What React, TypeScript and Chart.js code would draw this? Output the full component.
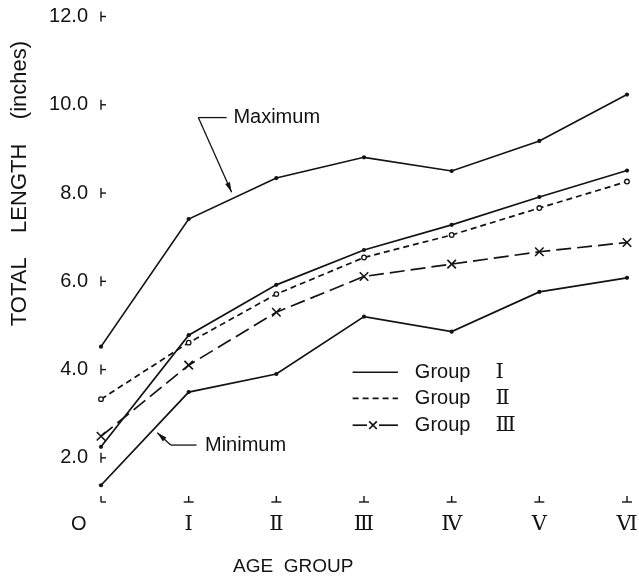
import React, { useEffect, useRef } from 'react';
import { Chart, registerables } from 'chart.js';

Chart.register(...registerables);

// ---- data ----
const ageGroups = ['O', 'Ⅰ', 'Ⅱ', 'Ⅲ', 'Ⅳ', 'Ⅴ', 'Ⅵ'];
const maximum = [4.52, 7.41, 8.34, 8.81, 8.5, 9.18, 10.23];
const groupI = [2.25, 4.78, 5.92, 6.71, 7.28, 7.91, 8.51];
const groupII = [3.33, 4.61, 5.71, 6.54, 7.05, 7.66, 8.26];
const groupIII = [2.49, 4.1, 5.3, 6.11, 6.39, 6.67, 6.88];
const minimum = [1.38, 3.49, 3.9, 5.2, 4.86, 5.76, 6.08];
const yTickValues = [2, 4, 6, 8, 10, 12];
const groupWord = 'Group';
const groupNumerals = ['Ⅰ', 'Ⅱ', 'Ⅲ'];
const yTitle = 'TOTAL    LENGTH    (inches)    ';
const xTitle = 'AGE  GROUP';

// annotation anchors in data space [categoryIndex, value]
const annotations = [
  { text: 'Maximum', tip: [1.49, 8.02], elbow: [1.11, 9.71], end: [1.433, 9.71], label: [1.51, 9.71] },
  { text: 'Minimum', tip: [0.642, 2.57], elbow: [0.795, 2.29], end: [1.09, 2.29], label: [1.186, 2.29] },
];
// legend anchors in data space
const legendLine = [2.87, 3.387];
const legendTextX = 3.58;
const legendNumeralX = 4.5;
const legendRows = [3.94, 3.35, 2.74];

const ink = '#131313';
const sans = '"Liberation Sans", Arial, sans-serif';
const serif = '"DejaVu Serif", "DejaVu Sans", serif';

const decorPlugin = {
  id: 'decor',
  afterDatasetsDraw(chart: any) {
    const { ctx, chartArea } = chart;
    const xs = chart.scales.x;
    const ys = chart.scales.y;
    const px = (v: number) => xs.getPixelForValue(v);
    const py = (v: number) => ys.getPixelForValue(v);
    ctx.save();
    ctx.strokeStyle = ink;
    ctx.fillStyle = ink;
    ctx.lineWidth = 1.4;
    ctx.lineCap = 'butt';
    const seg = (x1: number, y1: number, x2: number, y2: number) => {
      ctx.beginPath();
      ctx.moveTo(x1, y1);
      ctx.lineTo(x2, y2);
      ctx.stroke();
    };
    // y tick marks
    ys.ticks.forEach((t: any) => {
      const y = py(t.value);
      seg(chartArea.left, y - 5, chartArea.left, y + 5);
      seg(chartArea.left, y, chartArea.left + 5, y);
    });
    // x tick marks
    const b = chartArea.bottom;
    xs.ticks.forEach((_t: any, i: number) => {
      const x = px(i);
      if (i === 0) {
        seg(x, b - 6, x, b);
        seg(x, b, x + 5, b);
      } else {
        seg(x - 5, b, x + 5, b);
        seg(x, b, x, b - 6);
      }
    });
    // annotations
    ctx.lineWidth = 1.3;
    annotations.forEach((a) => {
      const tx = px(a.tip[0]), ty = py(a.tip[1]);
      const ex = px(a.elbow[0]), ey = py(a.elbow[1]);
      seg(px(a.end[0]), py(a.end[1]), ex, ey);
      seg(ex, ey, tx, ty);
      const ang = Math.atan2(ty - ey, tx - ex);
      const L = 10, W = 2.6;
      ctx.beginPath();
      ctx.moveTo(tx, ty);
      ctx.lineTo(tx - L * Math.cos(ang) + W * Math.sin(ang), ty - L * Math.sin(ang) - W * Math.cos(ang));
      ctx.lineTo(tx - L * Math.cos(ang) - W * Math.sin(ang), ty - L * Math.sin(ang) + W * Math.cos(ang));
      ctx.closePath();
      ctx.fill();
      ctx.font = `20px ${sans}`;
      ctx.textAlign = 'left';
      ctx.textBaseline = 'middle';
      ctx.fillText(a.text, px(a.label[0]), py(a.label[1]));
    });
    // legend
    [1, 2, 3].forEach((di, r) => {
      const ds = chart.data.datasets[di];
      const y = py(legendRows[r]);
      const x1 = px(legendLine[0]);
      const x2 = px(legendLine[1]);
      ctx.lineWidth = ds.borderWidth;
      if (ds.pointStyle === 'crossRot') {
        const mx = x1 + (x2 - x1) * 0.45;
        ctx.setLineDash([]);
        seg(x1, y, mx - 6, y);
        seg(mx + 6, y, x2, y);
        const d = 3.8;
        seg(mx - d, y - d, mx + d, y + d);
        seg(mx - d, y + d, mx + d, y - d);
      } else {
        ctx.setLineDash(ds.borderDash || []);
        seg(x1, y, x2, y);
        ctx.setLineDash([]);
      }
      ctx.font = `20px ${sans}`;
      ctx.textAlign = 'left';
      ctx.textBaseline = 'middle';
      ctx.fillText(groupWord, px(legendTextX), y);
      ctx.font = `21px ${serif}`;
      ctx.fillText(groupNumerals[r], px(legendNumeralX), y);
    });
    ctx.restore();
  },
};

export default function App() {
  const ref = useRef<HTMLCanvasElement>(null);
  useEffect(() => {
    document.body.style.margin = '0';
    const canvas = ref.current!;
    const base = {
      borderColor: ink,
      borderWidth: 1.7,
      pointRadius: 2.1,
      pointBackgroundColor: ink,
      pointBorderColor: ink,
      pointBorderWidth: 0,
      tension: 0,
      fill: false,
    };
    const chart = new Chart(canvas, {
      type: 'line',
      data: {
        labels: ageGroups,
        datasets: [
          { ...base, label: 'Maximum', data: maximum },
          { ...base, label: 'Group Ⅰ', data: groupI },
          {
            ...base,
            label: 'Group Ⅱ',
            data: groupII,
            borderDash: [6, 4],
            pointRadius: 2.3,
            pointBackgroundColor: '#ffffff',
            pointBorderWidth: 1.3,
          },
          {
            ...base,
            label: 'Group Ⅲ',
            data: groupIII,
            borderDash: [15, 6],
            pointStyle: 'crossRot',
            pointRadius: 6,
            pointBorderWidth: 1.6,
          },
          { ...base, label: 'Minimum', data: minimum },
        ],
      } as any,
      options: {
        animation: false,
        responsive: false,
        events: [],
        layout: { padding: { top: 16.5, right: 12, left: 0, bottom: 0 } },
        plugins: { legend: { display: false }, tooltip: { enabled: false } },
        scales: {
          x: {
            type: 'category',
            offset: false,
            grid: { display: false, drawTicks: false },
            border: { display: false },
            ticks: {
              color: ink,
              padding: 10,
              autoSkip: false,
              maxRotation: 0,
              font: (c: any) =>
                c.index === 0 ? { family: sans, size: 20 } : { family: serif, size: 21 },
              callback: (_v: any, i: number) => (i === 0 ? ageGroups[0] + '        ' : ageGroups[i]),
            },
            title: {
              display: true,
              text: '                         ' + xTitle,
              align: 'start',
              color: ink,
              padding: { top: 0, bottom: 0 },
              font: { family: sans, size: 19, lineHeight: 1 },
            },
            afterFit: (s: any) => {
              s.height = 74;
              s.paddingLeft = 0;
              s.paddingRight = 0;
            },
          },
          y: {
            min: 1,
            max: 12,
            grid: { display: false, drawTicks: false },
            border: { display: false },
            afterBuildTicks: (s: any) => {
              s.ticks = yTickValues.map((v) => ({ value: v }));
            },
            ticks: {
              color: ink,
              padding: 13,
              font: { family: sans, size: 20 },
              callback: (v: any) => Number(v).toFixed(1),
            },
            title: {
              display: true,
              text: yTitle,
              align: 'end',
              color: ink,
              padding: { top: 7, bottom: 0 },
              font: { family: sans, size: 22 },
            },
            afterFit: (s: any) => {
              s.width = 101;
              s.paddingTop = 0;
              s.paddingBottom = 0;
            },
          },
        },
      } as any,
      plugins: [decorPlugin],
    });
    return () => chart.destroy();
  }, []);
  return <canvas ref={ref} width={639} height={576} style={{ display: 'block' }} />;
}
